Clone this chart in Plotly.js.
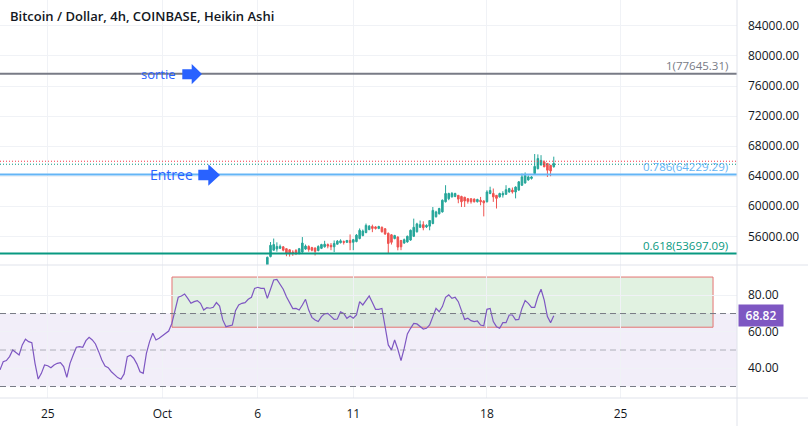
<!DOCTYPE html>
<html>
<head>
<meta charset="utf-8">
<script src="https://cdn.plot.ly/plotly-3.0.1.min.js"></script>
<style>html,body{margin:0;padding:0;background:#fff;}#chart{width:808px;height:426px;}</style>
</head>
<body>
<div id="chart"></div>
<script>
// ---- Heikin Ashi candles (4h), starting 2021-10-06 12:00 ----
const candleStart = '2021-10-06T12:00:00';
const haOpen = [52200,53300,54150,54300,54400,54600,54350,54200,53900,54100,53700,53900,54300,54650,54500,54450,54100,54400,54600,54900,54800,54600,54950,55150,55300,55200,55450,55200,55300,55700,56100,56500,56900,57300,57250,57050,57200,57000,56400,56200,55700,55900,55450,55100,55250,55500,56000,56600,57200,57550,57250,57350,57700,58600,59000,59250,60600,61000,61250,61300,61450,61300,61200,61000,61000,60950,60600,60800,60700,60600,61700,61700,61450,61250,61500,61600,61900,62150,61900,62150,62800,63100,63500,63700,64350,65000,65500,65900,65700,65450,65250];
const haHigh = [53300,55240,55700,55200,54900,54700,54400,54300,54150,54300,54450,55900,54900,54800,54600,54500,54800,55000,55400,55050,55100,55450,55500,55600,55450,55500,56250,55650,56300,57050,56900,57700,57500,57550,57350,57400,57300,57100,56500,56300,56200,56000,55500,55700,56100,56900,58350,57800,58100,58000,57600,58150,59900,59400,59800,60900,62800,61800,61900,61800,61500,61400,61250,61100,61050,61050,61000,61240,60800,62130,62600,62360,61500,61800,62000,62800,62450,62490,62650,63350,64350,64500,64100,64000,66950,66900,66800,66100,65750,65500,66600];
const haLow = [51800,53200,54100,53950,54300,54000,53350,53300,53400,53500,53600,53800,54200,53950,54000,53450,54000,54300,54500,54400,54150,53900,54900,55050,54900,55100,54150,54150,55200,55600,56000,56400,56800,56550,56900,56950,56500,56200,53700,54900,55600,54130,54150,55000,55150,55400,55900,56500,57100,56800,57100,56800,57600,58500,58900,59150,60500,60800,61150,61200,60400,59900,59900,60350,60350,60500,60500,60130,58650,60500,61600,60580,59700,61150,61150,61500,61800,61690,61050,62050,62700,63000,63400,63550,64250,64900,65400,65200,63900,64000,65150];
const haClose = [53200,54800,54900,54650,54650,54150,53700,53700,53750,53700,54350,55100,54700,54250,54150,54000,54650,54900,54950,54700,54600,55050,55350,55400,55200,55450,55150,55550,56150,56800,56700,57450,57350,57050,57050,57300,56600,56300,55050,55200,56100,54560,54600,55550,56000,56800,57200,57650,57550,57150,57450,58100,59450,59250,59700,60800,61700,61700,61700,61700,60950,60600,60700,60650,60600,60600,60900,60600,60450,61900,62100,61250,61050,61700,61700,62200,62350,61900,62550,63250,63900,64100,63900,63900,65300,66350,66100,65250,64800,64700,65700];

// ---- RSI (4h), starting 2021-09-22 12:00 ----
const rsiStart = '2021-09-22T12:00:00';
const rsiValues = [39.1,43.6,44.2,46.4,50.0,48.6,47.3,52.8,55.9,54.6,
54.0,42.7,34.1,37.2,41.8,41.4,40.3,41.8,42.7,
43.1,40.9,35.0,42.7,47.3,51.5,51.9,51.5,55.1,57.0,
55.5,53.3,49.1,44.5,41.2,40.3,38.1,36.3,34.9,34.0,
36.9,46.4,47.1,45.5,42.4,38.1,37.2,48.2,54.6,59.2,
55.5,56.4,57.7,59.2,60.4,64.6,71.9,78.9,79.6,80.7,
78.3,75.6,76.5,77.1,75.6,71.9,73.2,72.9,73.4,
76.0,74.1,66.5,62.8,63.2,63.7,71.6,74.7,75.6,76.0,
77.8,78.9,83.8,84.4,83.8,83.8,78.3,82.9,88.4,88.7,
85.6,
83.3,79.2,75.6,72.7,72.8,71.9,74.7,77.8,71.9,67.9,
66.5,65.6,68.3,69.8,70.1,68.3,66.8,67.0,71.0,70.1,
67.4,68.7,67.4,69.2,76.5,74.7,77.4,79.6,76.0,72.3,
72.3,72.8,62.8,52.8,50.0,55.5,50.4,44.2,50.9,
58.8,61.9,64.6,64.3,62.8,61.5,61.9,63.7,68.3,72.8,
71.0,73.8,78.9,80.2,78.3,78.9,76.5,71.0,66.8,67.4,
66.1,65.6,65.9,63.7,63.3,72.3,72.8,65.6,62.8,61.9,
65.0,65.0,69.2,69.2,66.5,66.8,72.8,77.1,75.6,73.4,
73.4,79.2,83.3,77.4,68.3,65.0,68.82];

// ---- levels / labels ----
const fibLevels = [77645.31, 64229.29, 53697.09];
const fibLabels = ['1(77645.31)', '0.786(64229.29)', '0.618(53697.09)'];
const lastPriceRed = 65990;
const lastPriceGreen = 65590;
const rsiLevels = [70, 50, 30];
const rsiLast = 68.82;
const boxRange = ['2021-10-01T12:10:00', '2021-10-29T20:10:00'];
const boxRsi = [62.5, 90];
const xTickVals = ['2021-09-25', '2021-10-01', '2021-10-06', '2021-10-11', '2021-10-18', '2021-10-25'];
const xTickText = ['25', 'Oct', '6', '11', '18', '25'];
const priceTicks = [56000, 60000, 64000, 68000, 72000, 76000, 80000, 84000];
const rsiTicks = [40, 60, 80];

function seriesDates(start, n) {
  const d0 = new Date(start + 'Z').getTime();
  const out = [];
  for (let i = 0; i < n; i++) {
    const d = new Date(d0 + i * 4 * 3600 * 1000);
    out.push(d.toISOString().slice(0, 19).replace('T', ' '));
  }
  return out;
}
const candleDates = seriesDates(candleStart, haClose.length);
const rsiDates = seriesDates(rsiStart, rsiValues.length);

const W = 808, H = 426, PW = 737, PH = 398;
const split = 133 / PH;
const px = v => v / PW, py = v => 1 - v / PH;
function arrowPath(pts) {
  return 'M ' + pts.map(p => px(p[0]).toFixed(5) + ',' + py(p[1]).toFixed(5)).join(' L ') + ' Z';
}

const grid = '#f0f2f6';
const font = 'Open Sans, Noto Sans, sans-serif';
const txt = '#131722';

const traces = [
  {
    type: 'candlestick', x: candleDates, open: haOpen, high: haHigh, low: haLow, close: haClose,
    xaxis: 'x', yaxis: 'y', hoverinfo: 'skip', whiskerwidth: 0,
    increasing: {line: {color: '#26a69a', width: 1}, fillcolor: '#26a69a'},
    decreasing: {line: {color: '#ef5350', width: 1}, fillcolor: '#ef5350'}
  },
  {
    type: 'scatter', mode: 'lines', x: rsiDates, y: rsiValues, xaxis: 'x2', yaxis: 'y2',
    line: {color: '#7e57c2', width: 1.2}, hoverinfo: 'skip'
  }
];

const shapes = [];
shapes.push({type: 'rect', xref: 'paper', yref: 'y2', x0: 0, x1: 1, y0: 30, y1: 70,
  fillcolor: 'rgba(126,87,194,0.1)', line: {width: 0}, layer: 'below'});
shapes.push({type: 'rect', xref: 'x2', yref: 'y2', x0: boxRange[0], x1: boxRange[1], y0: boxRsi[0], y1: boxRsi[1],
  fillcolor: 'rgba(76,175,80,0.17)', line: {color: '#e57373', width: 1}, layer: 'below'});
rsiLevels.forEach((lv, i) => shapes.push({type: 'line', xref: 'paper', yref: 'y2', x0: 0, x1: 1, y0: lv, y1: lv,
  line: {color: i === 1 ? 'rgba(120,123,134,0.55)' : '#787b86', width: 1, dash: '6px,4px'}}));
const fibColors = ['#787b86', '#64b5f6', '#089981'];
fibLevels.forEach((lv, i) => shapes.push({type: 'line', xref: 'paper', yref: 'y', x0: 0, x1: 1, y0: lv, y1: lv,
  line: {color: fibColors[i], width: 2}}));
shapes.push({type: 'line', xref: 'paper', yref: 'y', x0: 0, x1: 1, y0: lastPriceRed, y1: lastPriceRed,
  line: {color: '#f23645', width: 1, dash: '1px,2px'}});
shapes.push({type: 'line', xref: 'paper', yref: 'y', x0: 0, x1: 1, y0: lastPriceGreen, y1: lastPriceGreen,
  line: {color: '#089981', width: 1, dash: '1px,2px'}});
// pane separators / frame
shapes.push({type: 'line', xref: 'paper', yref: 'paper', x0: 0, x1: W / PW, y0: split, y1: split, line: {color: '#e0e3eb', width: 1}});
shapes.push({type: 'line', xref: 'paper', yref: 'paper', x0: 0, x1: W / PW, y0: 0, y1: 0, line: {color: '#e0e3eb', width: 1}});
shapes.push({type: 'line', xref: 'paper', yref: 'paper', x0: 1, x1: 1, y0: -(H - PH) / PH, y1: 1, line: {color: '#e0e3eb', width: 1}});
// arrows
shapes.push({type: 'path', xref: 'paper', yref: 'paper', fillcolor: '#2962ff', line: {width: 0},
  path: arrowPath([[182.3, 69.3], [191.7, 69.3], [191.7, 64], [202, 74], [191.7, 84.3], [191.7, 79.3], [182.3, 79.3]])});
shapes.push({type: 'path', xref: 'paper', yref: 'paper', fillcolor: '#2962ff', line: {width: 0},
  path: arrowPath([[198.3, 169.8], [208.3, 169.8], [208.3, 164.3], [220, 175], [208.3, 185.7], [208.3, 180.3], [198.3, 180.3]])});

const annotations = [];
annotations.push({xref: 'paper', yref: 'paper', x: px(8), y: py(16), xanchor: 'left', yanchor: 'middle', showarrow: false,
  text: 'Bitcoin / Dollar, 4h, COINBASE, Heikin Ashi', font: {family: font, size: 13, color: txt, weight: 600}});
fibLabels.forEach((t, i) => annotations.push({xref: 'paper', yref: 'y', x: px(729), y: fibLevels[i], xanchor: 'right', yanchor: 'middle',
  yshift: 8, borderpad: 0, showarrow: false, text: t, font: {family: font, size: 11.5, color: fibColors[i]}}));
annotations.push({xref: 'paper', yref: 'paper', x: px(158), y: py(74), xanchor: 'center', yanchor: 'middle', showarrow: false,
  text: 'sortie', font: {family: font, size: 13, color: '#2962ff'}});
annotations.push({xref: 'paper', yref: 'paper', x: px(171), y: py(175), xanchor: 'center', yanchor: 'middle', showarrow: false,
  text: 'Entree', font: {family: font, size: 14, color: '#2962ff'}});
annotations.push({xref: 'paper', yref: 'y2', x: 1, y: rsiLast, xanchor: 'left', yanchor: 'middle', xshift: 1, showarrow: false,
  text: rsiLast.toFixed(2), bgcolor: '#7e57c2', borderpad: 2, width: 40, align: 'center',
  font: {family: font, size: 12, color: '#ffffff', weight: 600}});

const layout = {
  width: W, height: H, margin: {l: 0, r: W - PW, t: 0, b: H - PH},
  paper_bgcolor: '#ffffff', plot_bgcolor: '#ffffff', showlegend: false,
  xaxis: {domain: [0, 1], anchor: 'y', range: ['2021-09-22 12:00', '2021-10-31 02:17'], type: 'date',
    rangeslider: {visible: false}, showticklabels: false, tickvals: xTickVals, showgrid: true, gridcolor: grid,
    zeroline: false, showline: false, fixedrange: true},
  xaxis2: {domain: [0, 1], anchor: 'y2', matches: 'x', type: 'date', tickvals: xTickVals, ticktext: xTickText,
    showgrid: true, gridcolor: grid, zeroline: false, showline: false, ticks: '', ticklabelstandoff: 7,
    tickfont: {family: font, size: 12, color: txt}},
  yaxis: {domain: [split, 1], anchor: 'x', side: 'right', range: [52180, 87450], tickvals: priceTicks,
    tickformat: '.2f', showgrid: true, gridcolor: grid, zeroline: false, showline: false, ticks: '',
    ticklabelstandoff: 10, tickfont: {family: font, size: 12, color: txt}},
  yaxis2: {domain: [0, split], anchor: 'x2', side: 'right', range: [23.7, 96.6], tickvals: rsiTicks,
    tickformat: '.2f', showgrid: true, gridcolor: grid, zeroline: false, showline: false, ticks: '',
    ticklabelstandoff: 10, tickfont: {family: font, size: 12, color: txt}},
  shapes: shapes, annotations: annotations
};

Plotly.newPlot('chart', traces, layout, {displayModeBar: false, staticPlot: true});
</script>
</body>
</html>
